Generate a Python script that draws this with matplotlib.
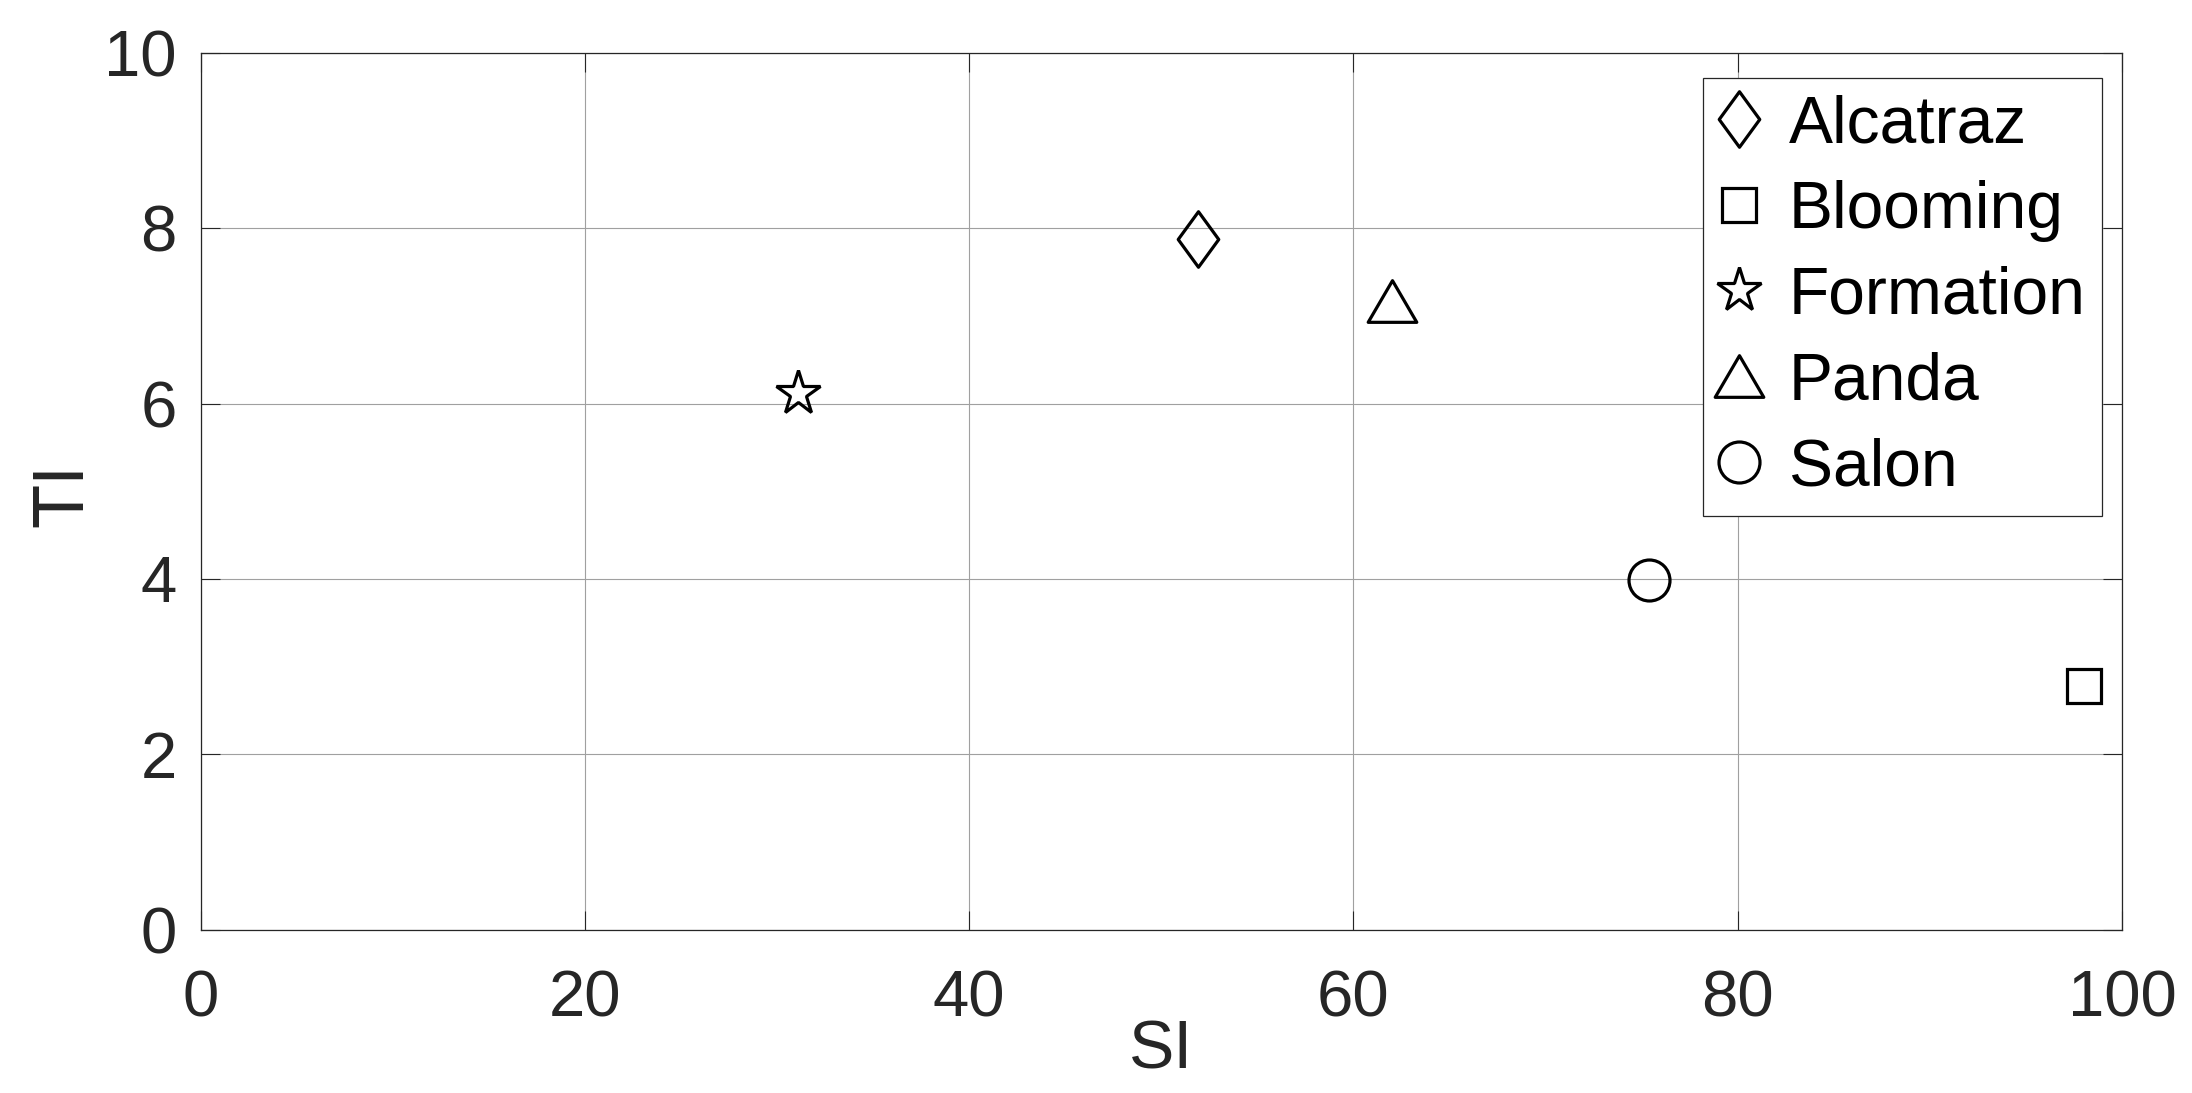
import matplotlib
matplotlib.use("Agg")
import matplotlib.pyplot as plt
import numpy as np
from matplotlib.path import Path

plt.rcParams['font.family'] = ['Liberation Sans', 'DejaVu Sans']

# Data
names = ["Alcatraz", "Blooming", "Formation", "Panda", "Salon"]
si_values = [51.9, 98.0, 31.1, 62.0, 75.4]
ti_values = [7.88, 2.78, 6.12, 7.17, 3.99]
x_ticks = [0, 20, 40, 60, 80, 100]
y_ticks = [0, 2, 4, 6, 8, 10]

# Marker styles
diamond = Path([(0, 1), (0.73, 0), (0, -1), (-0.73, 0), (0, 1)],
               [Path.MOVETO, Path.LINETO, Path.LINETO, Path.LINETO, Path.CLOSEPOLY])
triangle = Path([(0, 0.857), (1, -0.857), (-1, -0.857), (0, 0.857)],
                [Path.MOVETO, Path.LINETO, Path.LINETO, Path.CLOSEPOLY])
markers = [diamond, 's', '*', triangle, 'o']
msizes = [40, 24.5, 33, 35, 29.5]

W, H = 2192, 1093
fig = plt.figure(figsize=(W / 100, H / 100), dpi=100)
ax = fig.add_axes([200.5 / W, 1 - 929.5 / H, (2122 - 200.5) / W, (929.5 - 53) / H])

dark = '#262626'
for n, x, y, m, ms in zip(names, si_values, ti_values, markers, msizes):
    ax.plot([x], [y], linestyle='none', marker=m, markersize=ms,
            markerfacecolor='none', markeredgecolor='black',
            markeredgewidth=2.3, label=n, zorder=3)

ax.set_xlim(0, 100)
ax.set_ylim(0, 10)
ax.set_xticks(x_ticks)
ax.set_yticks(y_ticks)
ax.grid(True, color='#a0a0a0', linewidth=0.8)
ax.set_axisbelow(True)

for s in ax.spines.values():
    s.set_color(dark)
    s.set_linewidth(0.9)

ax.tick_params(axis='both', which='major', direction='in', length=13.7,
               width=0.8, color=dark, labelcolor=dark, labelsize=47,
               top=True, right=True)
ax.tick_params(axis='x', pad=28.5)
ax.tick_params(axis='y', pad=17)

ax.set_xlabel('SI', fontsize=49, color=dark)
ax.set_ylabel('TI', fontsize=52, color=dark)
ax.xaxis.set_label_coords(0.5, -0.101)
ax.yaxis.set_label_coords(-0.0536, 0.496)

leg = ax.legend(loc='upper right', bbox_to_anchor=(0.9896, 0.972),
                borderaxespad=0, fontsize=47.5, numpoints=1,
                handlelength=0.6, handletextpad=0.45, borderpad=0.25,
                labelspacing=0.36, frameon=True, fancybox=False)
leg.get_frame().set_edgecolor(dark)
leg.get_frame().set_linewidth(0.9)
leg.get_frame().set_alpha(1)
for t in leg.get_texts():
    t.set_color('black')

fig.savefig('out.png', dpi=100)
